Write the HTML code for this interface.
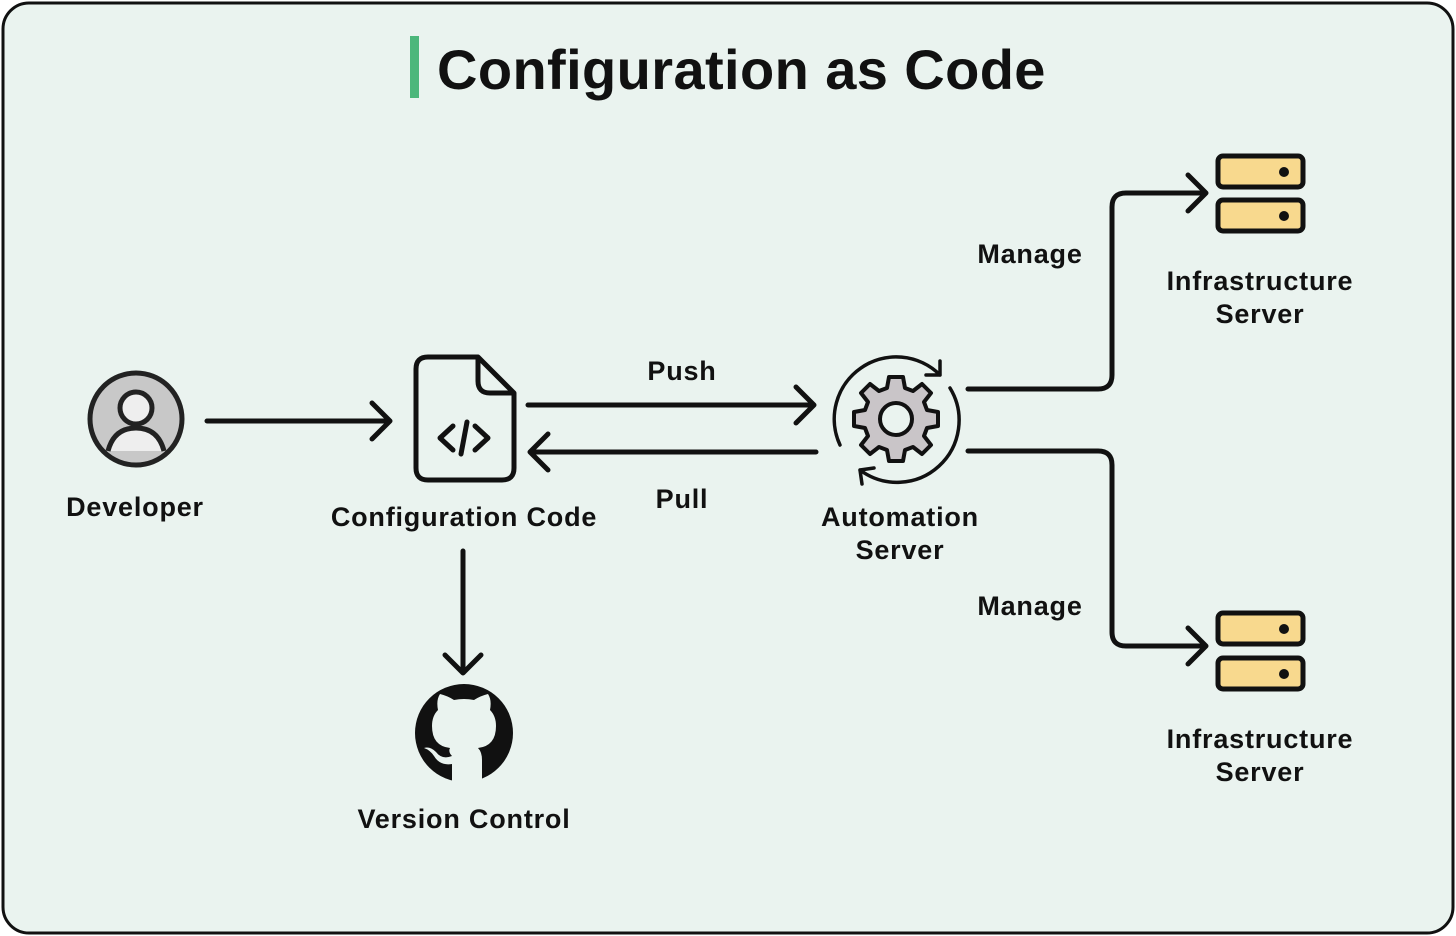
<!DOCTYPE html>
<html><head><style>
body{margin:0;width:1456px;height:936px;background:#fff;overflow:hidden}
svg{display:block}
text{font-family:"Liberation Sans",sans-serif;font-weight:bold;fill:#111}
</style></head><body>
<svg width="1456" height="936" viewBox="0 0 1456 936">
<rect x="3" y="3" width="1450" height="930" rx="26" fill="#eaf3ef" stroke="#111" stroke-width="3"/>
<rect x="410" y="36" width="9" height="62" fill="#4cb77b"/>
<text x="437" y="89" font-size="56" letter-spacing="0.4">Configuration as Code</text>
<g fill="none" stroke="#111" stroke-width="5" stroke-linecap="round" stroke-linejoin="round">
<path d="M207 421H390M372 403L390 421L372 439"/>
<path d="M528 405H814M796 387L814 405L796 423"/>
<path d="M816 452H530M548 434L530 452L548 470"/>
<path d="M968 389H1098Q1112 389 1112 375V207Q1112 193 1126 193H1206M1188 175L1206 193L1188 211"/>
<path d="M968 451H1098Q1112 451 1112 465V632Q1112 646 1126 646H1206M1188 628L1206 646L1188 664"/>
<path d="M463 551V671M445 655L463 673L481 655"/>
<path d="M428 357H478L514 393V468Q514 480 502 480H428Q416 480 416 468V369Q416 357 428 357Z"/>
<path d="M478 359V381Q478 393 490 393H512"/>
<path d="M453 426L440 438L453 450M475 426L488 438L475 450M467 422L461 454"/>
</g>
<g fill="none" stroke="#111" stroke-width="3.5" stroke-linecap="round" stroke-linejoin="round">
<path d="M840 445A62 62 0 0 1 940 375M940 361L940 375L926 375"/>
<path d="M950 388A62 62 0 0 1 860 470M862 484L860 470L874 468"/>
</g>
<g transform="translate(896,419)" stroke="#111" stroke-width="4" stroke-linejoin="round">
<path fill="#c9c5c8" d="M-7,-42 L7,-42 L9,-31 L17,-28 L26,-35 L35,-26 L28,-17 L31,-9 L42,-7 L42,7 L31,9 L28,17 L35,26 L26,35 L17,28 L9,31 L7,42 L-7,42 L-9,31 L-17,28 L-26,35 L-35,26 L-28,17 L-31,9 L-42,7 L-42,-7 L-31,-9 L-28,-17 L-35,-26 L-26,-35 L-17,-28 L-9,-31 Z"/>
<circle r="16" fill="#eaf3ef"/>
</g>
<circle cx="136" cy="419" r="46" fill="#c8c8c8" stroke="#222" stroke-width="5"/>
<circle cx="136" cy="408" r="16" fill="#eee" stroke="#222" stroke-width="5"/>
<path d="M108 451Q114 428 136 428Q158 428 164 451" fill="#eee" stroke="#222" stroke-width="5"/>
<g stroke="#111" stroke-width="5" fill="#f8d98e">
<rect x="1218" y="156" width="85" height="31" rx="5"/><rect x="1218" y="200" width="85" height="31" rx="5"/>
<rect x="1218" y="613" width="85" height="31" rx="5"/><rect x="1218" y="658" width="85" height="31" rx="5"/>
</g>
<g fill="#111"><circle cx="1284" cy="172" r="5"/><circle cx="1284" cy="216" r="5"/><circle cx="1284" cy="629" r="5"/><circle cx="1284" cy="674" r="5"/></g>
<circle cx="464" cy="733" r="49" fill="#111"/>
<path fill="#eaf3ef" d="M452 782V764Q440 766 434 756Q430 750 424 748Q430 746 436 752Q442 760 452 756Q448 752 450 748Q432 746 432 726Q432 716 438 710Q436 700 440 694Q448 696 454 700Q464 698 474 700Q480 696 488 694Q492 700 490 710Q496 716 496 726Q496 746 478 748Q482 752 482 760V782Z"/>
<g font-size="27" text-anchor="middle" letter-spacing="0.8">
<text x="135" y="516">Developer</text>
<text x="464" y="526">Configuration Code</text>
<text x="682" y="380">Push</text>
<text x="682" y="508">Pull</text>
<text x="900" y="526">Automation</text><text x="900" y="559">Server</text>
<text x="1030" y="263">Manage</text><text x="1030" y="615">Manage</text>
<text x="1260" y="290">Infrastructure</text><text x="1260" y="323">Server</text>
<text x="1260" y="748">Infrastructure</text><text x="1260" y="781">Server</text>
<text x="464" y="828">Version Control</text>
</g>
</svg>
</body></html>
